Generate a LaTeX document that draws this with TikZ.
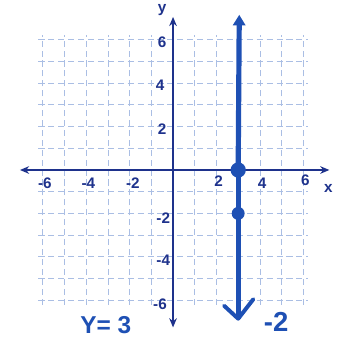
\documentclass[tikz,border=0pt]{standalone}
\usepackage{fontspec}
\setmainfont{Liberation Sans}
\usetikzlibrary{arrows.meta}
\definecolor{axisblue}{RGB}{30,50,140}
\definecolor{lineblue}{RGB}{30,80,180}
\definecolor{gridblue}{RGB}{170,190,228}
\tikzset{
  gridline/.style={gridblue, line width=0.5pt, dash pattern=on 4pt off 2.5pt},
  axisline/.style={axisblue, line width=1.5pt},
  ticklbl/.style={text=axisblue, font=\bfseries\fontsize{10}{11}\selectfont, inner sep=0pt},
  bigline/.style={lineblue, line width=3.4pt},
  dotpt/.style={circle, fill=lineblue, inner sep=0pt},
  hand/.style={text=lineblue, font=\bfseries\fontsize{18}{19}\selectfont, inner sep=0pt}
}
\begin{document}
\begin{tikzpicture}[x=0.5cm,y=0.5cm]
\useasboundingbox (-7.97,-7.83) rectangle (7.56,7.83);
% grid
\foreach \i in {-6,...,6} {
  \draw[gridline] (\i,-6.2) -- (\i,6.2);
  \draw[gridline] (-6.2,\i) -- (6.2,\i);
}
% axes
\coordinate (o) at (0,0);
\coordinate (xl) at (-7.05,0);
\coordinate (xr) at (7.2,0);
\coordinate (yb) at (0,-7.25);
\coordinate (yt) at (0,7.05);
\draw[axisline,-{Stealth[length=6pt,width=5pt]}] (o) -- (xr);
\draw[axisline,-{Stealth[length=6pt,width=5pt]}] (o) -- (xl);
\draw[axisline,-{Stealth[length=6pt,width=5pt]}] (o) -- (yt);
\draw[axisline,-{Stealth[length=6pt,width=5pt]}] (o) -- (yb);
% tick labels
\node[ticklbl] (xm6) at (-5.9,-0.6) {-6};
\node[ticklbl] (xm4) at (-3.9,-0.6) {-4};
\node[ticklbl] (xm2) at (-1.85,-0.6) {-2};
\node[ticklbl] (xp2) at (2.1,-0.5) {2};
\node[ticklbl] (xp4) at (4.1,-0.6) {4};
\node[ticklbl] (xp6) at (6.1,-0.45) {6};
\node[ticklbl] (xlab) at (7.15,-0.85) {x};
\node[ticklbl] (yp6) at (-0.5,5.9) {6};
\node[ticklbl] (yp4) at (-0.6,3.9) {4};
\node[ticklbl] (yp2) at (-0.5,1.9) {2};
\node[ticklbl] (ym2) at (-0.45,-2.2) {-2};
\node[ticklbl] (ym4) at (-0.45,-4.15) {-4};
\node[ticklbl] (ym6) at (-0.6,-6.2) {-6};
\node[ticklbl] (ylab) at (-0.5,7.35) {y};
% line x = 3
\coordinate (lt) at (3.05,7.15);
\coordinate (lb) at (3.0,-6.85);
\node[dotpt, minimum size=10pt] (p1) at (3,0) {};
\node[dotpt, minimum size=8.5pt] (p2) at (3,-2) {};
\draw[bigline,-{Triangle[length=7pt,width=8pt]}] (p1.center) -- (lt);
\draw[bigline] (p1.center) -- (lb);
\draw[lineblue, line width=2.6pt, line cap=round, line join=round] (2.35,-6.25) -- (lb) -- (3.7,-5.95);
% handwritten notes
\node[hand] (n1) at (4.75,-7.0) {-2};
\node[hand, font=\bfseries\fontsize{16}{17}\selectfont] (n2) at (-3.1,-7.15) {Y= 3};
\end{tikzpicture}
\end{document}
